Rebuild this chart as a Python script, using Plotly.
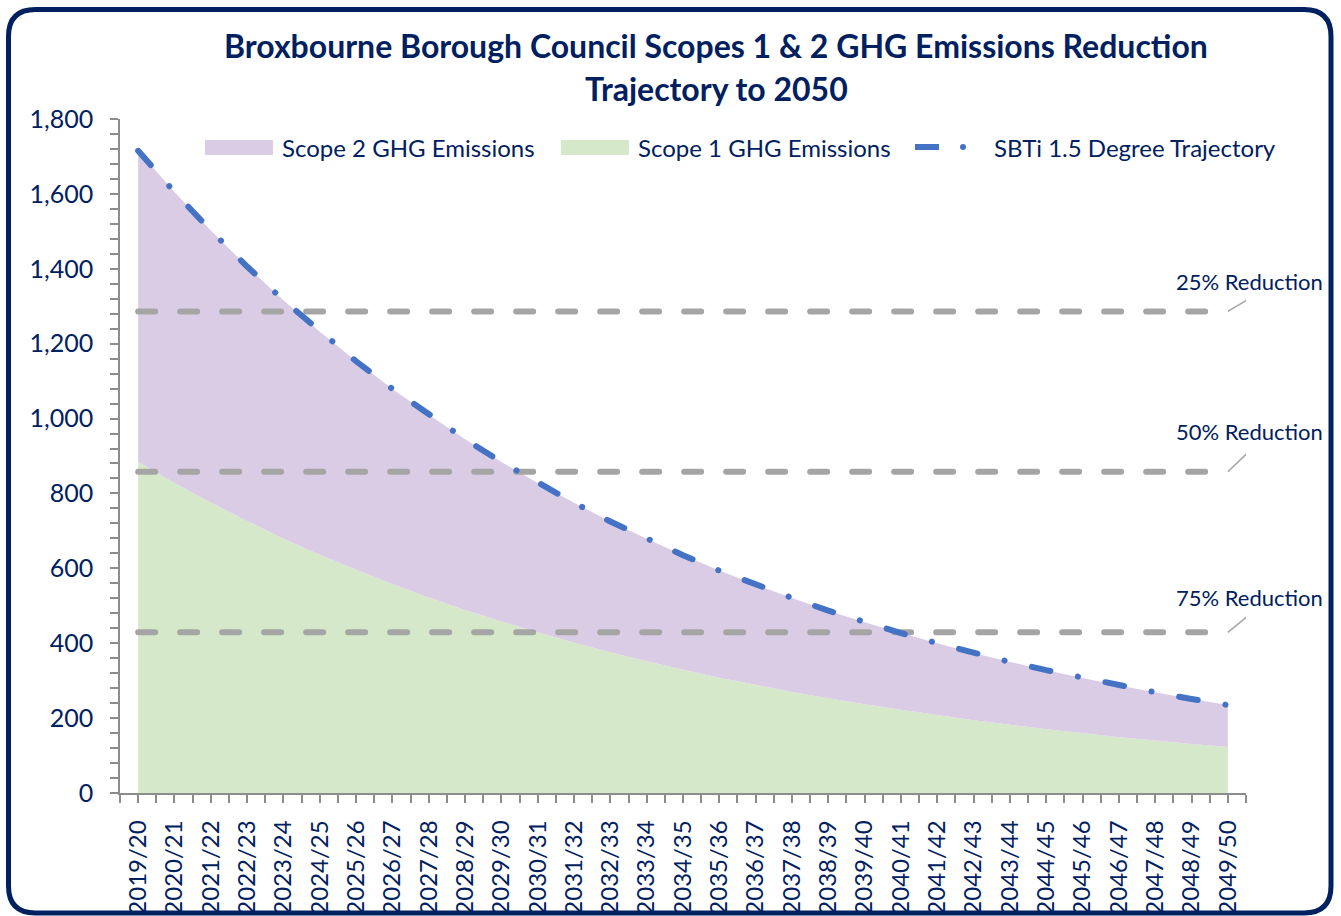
import plotly.graph_objects as go

# data (tCO2e)
years = [
    "2019/20", "2020/21", "2021/22", "2022/23", "2023/24", "2024/25", "2025/26",
    "2026/27", "2027/28", "2028/29", "2029/30", "2030/31", "2031/32", "2032/33",
    "2033/34", "2034/35", "2035/36", "2036/37", "2037/38", "2038/39", "2039/40",
    "2040/41", "2041/42", "2042/43", "2043/44", "2044/45", "2045/46", "2046/47",
    "2047/48", "2048/49", "2049/50",
]
scope1 = [884, 828, 775, 726, 679, 636, 596, 558, 522, 489, 458, 429, 401, 376,
          352, 329, 308, 289, 270, 253, 237, 222, 208, 194, 182, 170, 160, 149,
          140, 131, 123]
scope2 = [831, 777, 727, 680, 637, 596, 557, 521, 488, 456, 426, 399, 374, 349,
          327, 306, 286, 267, 251, 234, 219, 205, 192, 180, 168, 158, 147, 138,
          129, 120, 112]
sbti_trajectory = [1715, 1605, 1502, 1406, 1316, 1232, 1153, 1079, 1010, 945,
                   884, 828, 775, 725, 679, 635, 594, 556, 521, 487, 456, 427,
                   400, 374, 350, 328, 307, 287, 269, 251, 235]
reduction_labels = ["25% Reduction", "50% Reduction", "75% Reduction"]
reduction_levels = [1286, 858, 429]

NAVY = "#002060"
BLUE = "#4472C4"
GREY = "#A5A5A5"
AXIS_GREY = "#8C8C8C"
FONT = "Lato"

W, H = 1341, 916
ML, MR, MT, MB = 120, 95, 119, 123
PW, PH = W - ML - MR, H - MT - MB


def px_x(px):
    return (px - ML) / PW


def px_y(py):
    return (H - MB - py) / PH


x_idx = list(range(len(years)))

fig = go.Figure()

fig.add_trace(go.Scatter(
    x=x_idx, y=scope1, stackgroup="s", mode="none",
    fillcolor="#D5E8C9", name="Scope 1 GHG Emissions",
))
fig.add_trace(go.Scatter(
    x=x_idx, y=scope2, stackgroup="s", mode="none",
    fillcolor="#DBCCE6", name="Scope 2 GHG Emissions",
))

# reduction reference lines
for lvl in reduction_levels:
    fig.add_trace(go.Scatter(
        x=[x_idx[0], x_idx[-1]], y=[lvl, lvl], mode="lines",
        line=dict(color=GREY, width=6, dash="17px,25px"),
        showlegend=False, hoverinfo="skip",
    ))

fig.add_trace(go.Scatter(
    x=x_idx, y=sbti_trajectory, mode="lines",
    line=dict(color=BLUE, width=6, dash="19px,28px,0.1px,28px"),
    name="SBTi 1.5 Degree Trajectory",
))

# labels and leader lines for the reduction levels
label_offsets = [(20, 12, 30), (23, 22, 40), (22, 18, 35)]
for text, lvl, (dx, dy, ys) in zip(reduction_labels, reduction_levels, label_offsets):
    fig.add_shape(
        type="line", xref="x", yref="y",
        xsizemode="pixel", xanchor=x_idx[-1], x0=0, x1=dx,
        ysizemode="pixel", yanchor=lvl, y0=0, y1=dy,
        line=dict(color=GREY, width=1.5),
    )
    fig.add_annotation(
        x=x_idx[-1], y=lvl, xref="x", yref="y", text=text, showarrow=False,
        xanchor="center", yanchor="middle", xshift=22, yshift=ys,
        font=dict(family=FONT, size=22, color=NAVY),
    )

# title (two lines)
fig.add_annotation(
    x=px_x(716), y=px_y(45), xref="paper", yref="paper", showarrow=False,
    text="<b>Broxbourne Borough Council Scopes 1 &amp; 2 GHG Emissions Reduction</b>",
    font=dict(family=FONT, size=32, color=NAVY), xanchor="center", yanchor="middle",
)
fig.add_annotation(
    x=px_x(716), y=px_y(88), xref="paper", yref="paper", showarrow=False,
    text="<b>Trajectory to 2050</b>",
    font=dict(family=FONT, size=32, color=NAVY), xanchor="center", yanchor="middle",
)

# hand-drawn legend
leg_y = 147
for x0, x1, col in [(205, 273, "#DBCCE6"), (561, 629, "#D5E8C9")]:
    fig.add_shape(type="rect", xref="paper", yref="paper",
                  x0=px_x(x0), x1=px_x(x1), y0=px_y(leg_y + 8), y1=px_y(leg_y - 7),
                  fillcolor=col, line=dict(width=0))
fig.add_shape(type="line", xref="paper", yref="paper",
              x0=px_x(915), x1=px_x(939), y0=px_y(leg_y), y1=px_y(leg_y),
              line=dict(color=BLUE, width=6))
fig.add_shape(type="circle", xref="paper", yref="paper",
              x0=px_x(960), x1=px_x(966), y0=px_y(leg_y + 3), y1=px_y(leg_y - 3),
              fillcolor=BLUE, line=dict(width=0))
for xpos, text in [(280, "Scope 2 GHG Emissions"), (636, "Scope 1 GHG Emissions"),
                   (992, "SBTi 1.5 Degree Trajectory")]:
    fig.add_annotation(x=px_x(xpos), y=px_y(leg_y), xref="paper", yref="paper",
                       text=text, showarrow=False, xanchor="left", yanchor="middle",
                       font=dict(family=FONT, size=24, color=NAVY))

# rounded navy frame around the whole chart
bx0, bx1, by0, by1, r = px_x(8.5), px_x(1331), px_y(9.5), px_y(913), 27
rx, ry = r / PW, r / PH
frame = (
    f"M {bx0 + rx},{by0} L {bx1 - rx},{by0} Q {bx1},{by0} {bx1},{by0 - ry} "
    f"L {bx1},{by1 + ry} Q {bx1},{by1} {bx1 - rx},{by1} "
    f"L {bx0 + rx},{by1} Q {bx0},{by1} {bx0},{by1 + ry} "
    f"L {bx0},{by0 - ry} Q {bx0},{by0} {bx0 + rx},{by0} Z"
)
fig.add_shape(type="path", xref="paper", yref="paper", path=frame,
              line=dict(color=NAVY, width=5))

fig.update_layout(
    width=W, height=H,
    margin=dict(l=ML, r=MR, t=MT, b=MB, autoexpand=False),
    paper_bgcolor="white", plot_bgcolor="white",
    showlegend=False,
    font=dict(family=FONT, color=NAVY),
)
fig.update_xaxes(
    range=[-0.5, len(years) - 0.5],
    tickmode="array", tickvals=x_idx, ticktext=years, tickangle=-90,
    tickfont=dict(family=FONT, size=24, color=NAVY),
    showline=True, linecolor=AXIS_GREY, linewidth=1.5,
    ticks="outside", ticklen=8, tickwidth=1.5, tickcolor=AXIS_GREY,
    ticklabelstandoff=8,
    minor=dict(tickmode="linear", tick0=-0.5, dtick=1, ticks="outside",
               ticklen=8, tickwidth=1.5, tickcolor=AXIS_GREY),
    showgrid=False, zeroline=False, fixedrange=True,
)
fig.update_yaxes(
    range=[0, 1800], dtick=200, tickformat=",",
    tickfont=dict(family=FONT, size=25, color=NAVY),
    showline=True, linecolor=AXIS_GREY, linewidth=1.5,
    ticks="outside", ticklen=8, tickwidth=1.5, tickcolor=AXIS_GREY,
    ticklabelstandoff=12,
    minor=dict(dtick=40, ticks="outside", ticklen=8, tickwidth=1.5,
               tickcolor=AXIS_GREY, showgrid=False),
    showgrid=False, zeroline=False, fixedrange=True,
)

# Excel-style rounded dash ends
post = (
    "document.body.style.margin='0';"
    "document.querySelectorAll('.js-line').forEach(function(p){"
    "p.style.strokeLinecap='round';});"
)
fig.write_html("out.html", post_script=post, config={"displayModeBar": False})
